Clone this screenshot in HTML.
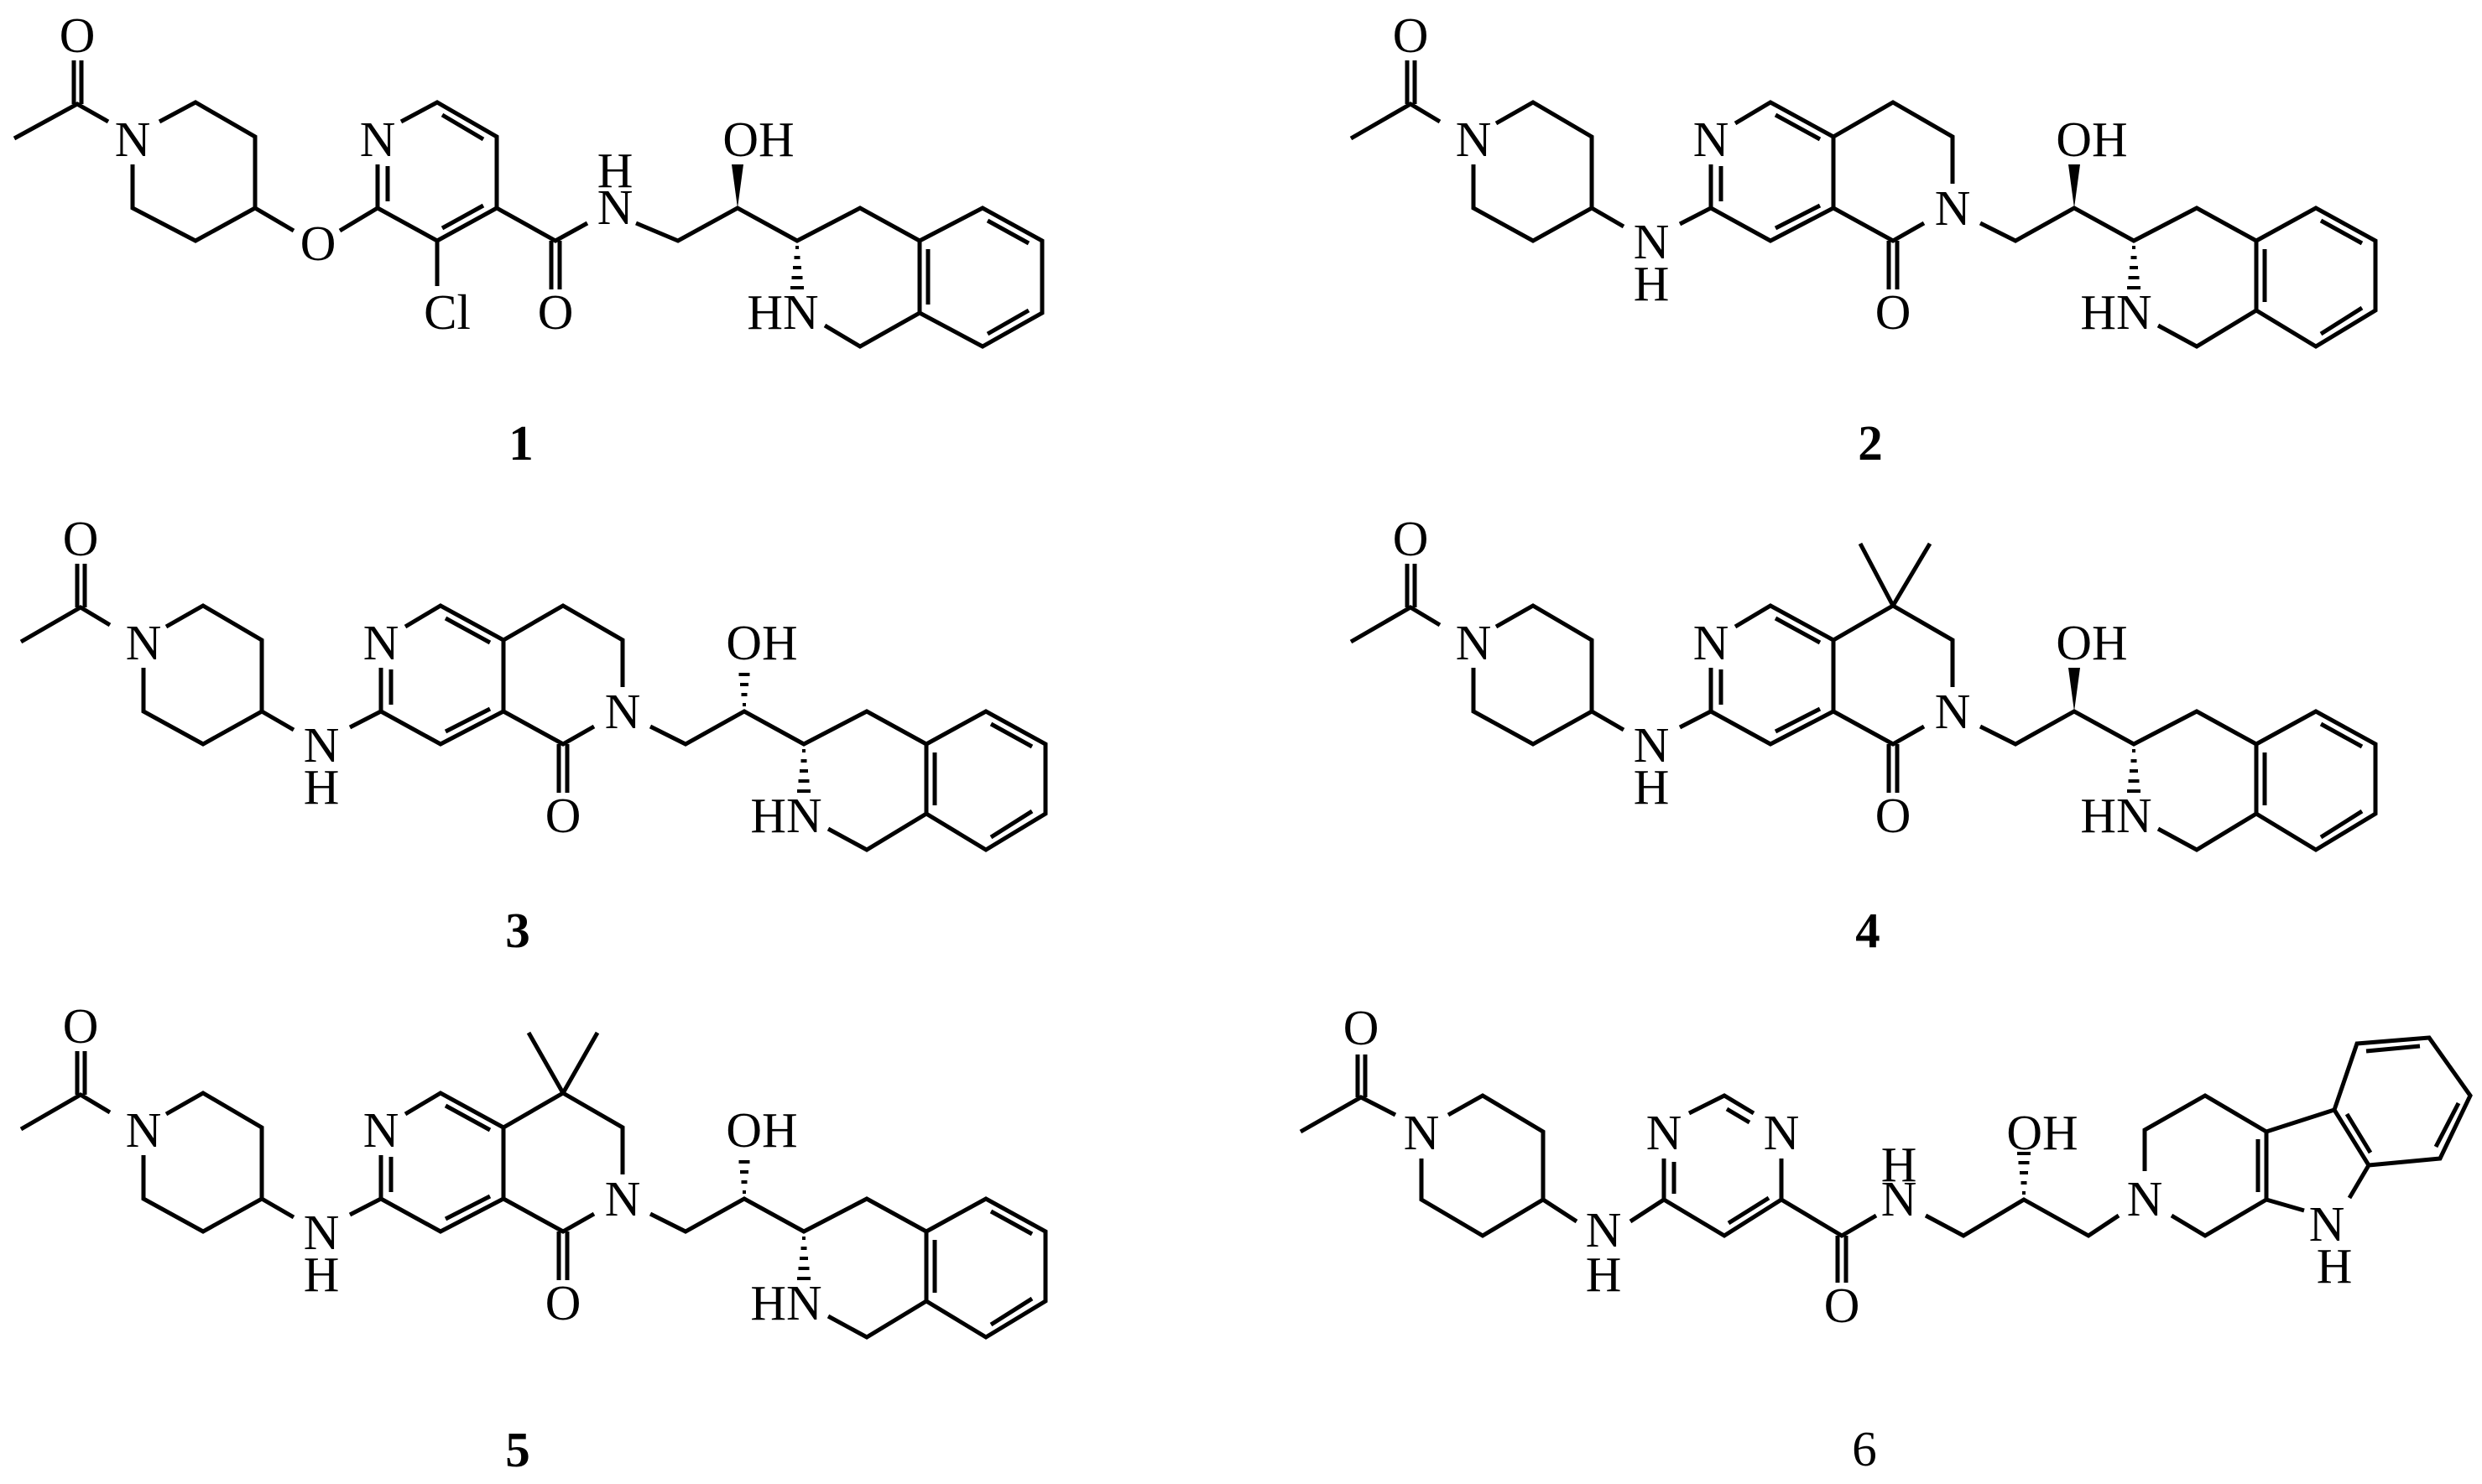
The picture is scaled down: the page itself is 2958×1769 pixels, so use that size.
<!DOCTYPE html>
<html><head><meta charset="utf-8"><style>
html,body{margin:0;padding:0;background:#fff;}
svg{display:block;}
text{font-family:"Liberation Serif",serif;font-size:59px;fill:#000;text-anchor:middle;}
.b{font-weight:bold;}
path{fill:none;stroke:#000;stroke-width:5;stroke-linejoin:miter;stroke-linecap:butt;}
</style></head><body>
<svg width="2958" height="1769" viewBox="0 0 2958 1769" xmlns="http://www.w3.org/2000/svg">

<!-- Structure 1 -->
<g>
<path d="M17,165 L92,124 L129,145 M88,124 L88,72 M97,124 L97,72
M190,145 L233,122 L304,163 L304,248 L233,287 L158,248 L158,196
M304,248 L350,275 M405,275 L450,248 L450,196 M462,240 L462,198
M478,145 L521,122 L592,163 L592,248 L521,287 L450,248
M527,137 L576,166 M576,245 L527,272
M521,287 L521,341
M592,248 L662,287 L700,266 M657,287 L657,345 M667,287 L667,345
M758,266 L808,287 L879,248 L950,287 L1025,248 L1096,287 L1096,373 L1025,413 L983,388
M1096,287 L1171,248 L1242,287 L1242,373 L1171,413 L1096,373
M1106,297 L1106,363 M1177,263 L1226,290 M1226,370 L1177,398"/>
<polygon points="879,248 872,196 886,196" fill="#000"/>
<g stroke="#000" stroke-width="4">
<line x1="948" y1="295" x2="952" y2="295"/><line x1="946.5" y1="307" x2="953.5" y2="307"/><line x1="945" y1="319" x2="955" y2="319"/><line x1="943.5" y1="331" x2="956.5" y2="331"/><line x1="942" y1="343" x2="958" y2="343"/>
</g>
<text x="92" y="62">O</text>
<text x="158" y="186">N</text>
<text x="379" y="310">O</text>
<text x="450" y="186">N</text>
<text x="533" y="392">Cl</text>
<text x="662" y="392">O</text>
<text x="733" y="267">N</text>
<text x="733" y="223">H</text>
<text x="904" y="186">OH</text>
<text x="933" y="392">HN</text>
<text class="b" x="621" y="548">1</text>
</g>

<!-- Structure 3 -->
<g>
<path d="M25,765 L96,724 L131,745 M92,724 L92,672 M101,724 L101,672
M198,747 L242,722 L312,763 L312,848 L242,887 L171,848 L171,796
M312,848 L350,870 M417,867 L454,848 L454,796 M466,840 L466,798
M483,747 L525,722 L600,763 L600,848 L525,887 L454,848
M531,737 L584,766 M584,845 L531,872
M600,763 L671,722 L742,763 L742,819
M600,848 L671,887 L708,866 M666,887 L666,945 M676,887 L676,945
M775,866 L817,887 L887,848 L958,887 L1033,848 L1104,887 L1104,970 L1033,1013 L987,988
M1104,887 L1175,848 L1246,887 L1246,970 L1175,1013 L1104,970
M1114,897 L1114,960 M1181,863 L1230,890 M1230,967 L1181,998"/>
<g stroke="#000" stroke-width="4">
<line x1="885" y1="840" x2="889" y2="840"/><line x1="883.5" y1="828" x2="890.5" y2="828"/><line x1="882" y1="816" x2="892" y2="816"/><line x1="880.5" y1="804" x2="893.5" y2="804"/>
<line x1="956" y1="895" x2="960" y2="895"/><line x1="954.5" y1="907" x2="961.5" y2="907"/><line x1="953" y1="919" x2="963" y2="919"/><line x1="951.5" y1="931" x2="964.5" y2="931"/><line x1="950" y1="943" x2="966" y2="943"/>
</g>
<text x="96" y="662">O</text>
<text x="171" y="786">N</text>
<text x="383" y="908">N</text>
<text x="383" y="958">H</text>
<text x="454" y="786">N</text>
<text x="742" y="868">N</text>
<text x="671" y="992">O</text>
<text x="908" y="786">OH</text>
<text x="937" y="992">HN</text>
<text class="b" x="617" y="1129">3</text>
</g>

<!-- Structure 5 -->
<g transform="translate(0,581)">
<path d="M25,765 L96,724 L131,745 M92,724 L92,672 M101,724 L101,672
M198,747 L242,722 L312,763 L312,848 L242,887 L171,848 L171,796
M312,848 L350,870 M417,867 L454,848 L454,796 M466,840 L466,798
M483,747 L525,722 L600,763 L600,848 L525,887 L454,848
M531,737 L584,766 M584,845 L531,872
M600,763 L671,722 L742,763 L742,819
M600,848 L671,887 L708,866 M666,887 L666,945 M676,887 L676,945
M775,866 L817,887 L887,848 L958,887 L1033,848 L1104,887 L1104,970 L1033,1013 L987,988
M1104,887 L1175,848 L1246,887 L1246,970 L1175,1013 L1104,970
M1114,897 L1114,960 M1181,863 L1230,890 M1230,967 L1181,998
M671,722 L630,650 M671,722 L712,650"/>
<g stroke="#000" stroke-width="4">
<line x1="885" y1="840" x2="889" y2="840"/><line x1="883.5" y1="828" x2="890.5" y2="828"/><line x1="882" y1="816" x2="892" y2="816"/><line x1="880.5" y1="804" x2="893.5" y2="804"/>
<line x1="956" y1="895" x2="960" y2="895"/><line x1="954.5" y1="907" x2="961.5" y2="907"/><line x1="953" y1="919" x2="963" y2="919"/><line x1="951.5" y1="931" x2="964.5" y2="931"/><line x1="950" y1="943" x2="966" y2="943"/>
</g>
<text x="96" y="662">O</text>
<text x="171" y="786">N</text>
<text x="383" y="908">N</text>
<text x="383" y="958">H</text>
<text x="454" y="786">N</text>
<text x="742" y="868">N</text>
<text x="671" y="992">O</text>
<text x="908" y="786">OH</text>
<text x="937" y="992">HN</text>
<text class="b" x="617" y="1167">5</text>
</g>

<!-- Structure 4 -->
<g transform="translate(1585,0)">
<path d="M25,765 L96,724 L131,745 M92,724 L92,672 M101,724 L101,672
M198,747 L242,722 L312,763 L312,848 L242,887 L171,848 L171,796
M312,848 L350,870 M417,867 L454,848 L454,796 M466,840 L466,798
M483,747 L525,722 L600,763 L600,848 L525,887 L454,848
M531,737 L584,766 M584,845 L531,872
M600,763 L671,722 L742,763 L742,819
M600,848 L671,887 L708,866 M666,887 L666,945 M676,887 L676,945
M775,866 L817,887 L887,848 L958,887 L1033,848 L1104,887 L1104,970 L1033,1013 L987,988
M1104,887 L1175,848 L1246,887 L1246,970 L1175,1013 L1104,970
M1114,897 L1114,960 M1181,863 L1230,890 M1230,967 L1181,998
M671,722 L632,648 M671,722 L715,648"/>
<polygon points="887,848 880,796 894,796" fill="#000"/>
<g stroke="#000" stroke-width="4">
<line x1="956" y1="895" x2="960" y2="895"/><line x1="954.5" y1="907" x2="961.5" y2="907"/><line x1="953" y1="919" x2="963" y2="919"/><line x1="951.5" y1="931" x2="964.5" y2="931"/><line x1="950" y1="943" x2="966" y2="943"/>
</g>
<text x="96" y="662">O</text>
<text x="171" y="786">N</text>
<text x="383" y="908">N</text>
<text x="383" y="958">H</text>
<text x="454" y="786">N</text>
<text x="742" y="868">N</text>
<text x="671" y="992">O</text>
<text x="908" y="786">OH</text>
<text x="937" y="992">HN</text>
<text class="b" x="641" y="1129">4</text>
</g>

<!-- Structure 2 -->
<g transform="translate(1585,-600)">
<path d="M25,765 L96,724 L131,745 M92,724 L92,672 M101,724 L101,672
M198,747 L242,722 L312,763 L312,848 L242,887 L171,848 L171,796
M312,848 L350,870 M417,867 L454,848 L454,796 M466,840 L466,798
M483,747 L525,722 L600,763 L600,848 L525,887 L454,848
M531,737 L584,766 M584,845 L531,872
M600,763 L671,722 L742,763 L742,819
M600,848 L671,887 L708,866 M666,887 L666,945 M676,887 L676,945
M775,866 L817,887 L887,848 L958,887 L1033,848 L1104,887 L1104,970 L1033,1013 L987,988
M1104,887 L1175,848 L1246,887 L1246,970 L1175,1013 L1104,970
M1114,897 L1114,960 M1181,863 L1230,890 M1230,967 L1181,998"/>
<polygon points="887,848 880,796 894,796" fill="#000"/>
<g stroke="#000" stroke-width="4">
<line x1="956" y1="895" x2="960" y2="895"/><line x1="954.5" y1="907" x2="961.5" y2="907"/><line x1="953" y1="919" x2="963" y2="919"/><line x1="951.5" y1="931" x2="964.5" y2="931"/><line x1="950" y1="943" x2="966" y2="943"/>
</g>
<text x="96" y="662">O</text>
<text x="171" y="786">N</text>
<text x="383" y="908">N</text>
<text x="383" y="958">H</text>
<text x="454" y="786">N</text>
<text x="742" y="868">N</text>
<text x="671" y="992">O</text>
<text x="908" y="786">OH</text>
<text x="937" y="992">HN</text>
<text class="b" x="644" y="1148">2</text>
</g>

<!-- Structure 6 -->
<g>
<path d="M1550,1349 L1622,1308 L1663,1329 M1618,1308 L1618,1257 M1627,1308 L1627,1257
M1726,1329 L1767,1306 L1839,1349 L1839,1430 L1767,1473 L1694,1430 L1694,1381
M1839,1430 L1879,1456 M1943,1456 L1983,1430
M1983,1430 L1983,1381 M1995,1423 L1995,1385
M2013,1327 L2055,1306 L2090,1327 M2058,1322 L2085,1338
M2123,1381 L2123,1430 L2055,1473 L1983,1430 M2108,1428 L2060,1458
M2123,1430 L2195,1473 L2236,1449 M2190,1473 L2190,1529 M2200,1473 L2200,1529
M2295,1449 L2340,1473 L2412,1430 L2489,1473 L2525,1449
M2556,1396 L2556,1347 L2628,1306 L2701,1349 L2701,1430 L2628,1473 L2588,1449
M2691,1358 L2691,1421
M2701,1349 L2782,1323 L2823,1389 L2800,1428 M2701,1430 L2746,1443
M2782,1323 L2809,1244 L2895,1237 L2944,1306 L2908,1381 L2823,1389
M2797,1328 L2825,1374 M2820,1253 L2884,1247 M2930,1315 L2903,1367"/>
<g stroke="#000" stroke-width="4">
<line x1="2410" y1="1422" x2="2414" y2="1422"/><line x1="2408.5" y1="1410" x2="2415.5" y2="1410"/><line x1="2407" y1="1398" x2="2417" y2="1398"/><line x1="2405.5" y1="1386" x2="2418.5" y2="1386"/><line x1="2404" y1="1375" x2="2420" y2="1375"/>
</g>
<text x="1622" y="1245">O</text>
<text x="1694" y="1370">N</text>
<text x="1911" y="1486">N</text>
<text x="1911" y="1539">H</text>
<text x="1983" y="1370">N</text>
<text x="2123" y="1370">N</text>
<text x="2195" y="1576">O</text>
<text x="2263" y="1449">N</text>
<text x="2263" y="1408">H</text>
<text x="2434" y="1370">OH</text>
<text x="2556" y="1449">N</text>
<text x="2773" y="1479">N</text>
<text x="2782" y="1529">H</text>
<text x="2222" y="1747">6</text>
</g>
</svg>
</body></html>
